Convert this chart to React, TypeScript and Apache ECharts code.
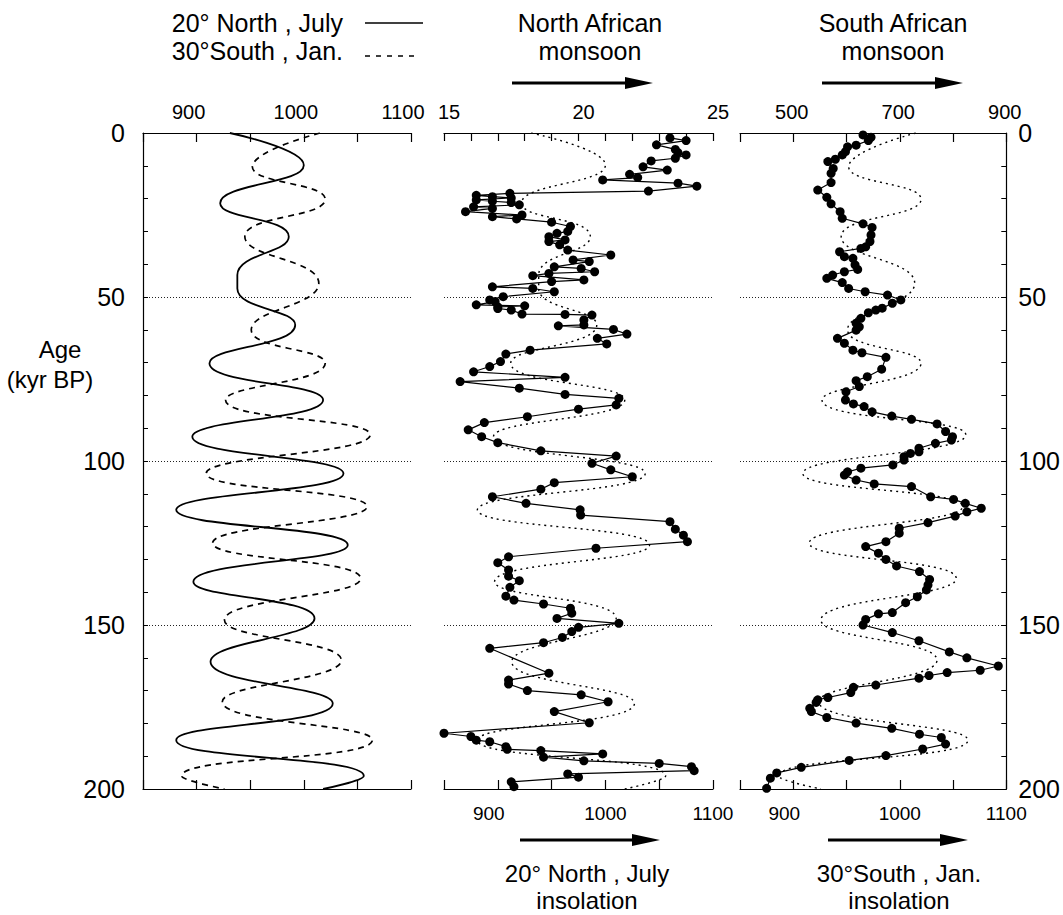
import React, { useEffect, useRef } from "react";
import * as echarts from "echarts";

const FONT = '"Liberation Sans", Arial, Helvetica, sans-serif';

// 20° North, July insolation (age kyr BP, value)
const n20JulyAge = [0, 9.8, 21.4, 31.6, 43.3, 47.4, 58.5, 70.2, 81.4, 92.6, 103.8, 114.9, 125.6, 136.8, 148, 161.2, 173.9, 185.1, 196, 200];
const n20JulyVal = [931, 1000, 922, 986, 938, 938, 992, 912, 1018, 896, 1037, 881, 1041, 897, 1010, 913, 1027, 881, 1056, 1018];

// 30° South, January insolation
const s30JanAge = [0, 10.3, 20.2, 31.6, 45.8, 60, 70.2, 81.4, 92, 103.8, 113.9, 125, 135.8, 148.5, 160.7, 173.4, 185.1, 196, 200];
const s30JanVal = [1015, 952, 1020, 945, 1014, 951, 1020, 927, 1062, 909, 1059, 915, 1053, 926, 1035, 924, 1064, 886, 926];

// North African monsoon index
const northAge = [1.5, 2.3, 3.6, 5.0, 6.0, 6.7, 7.7, 8.5, 10.3, 11.3, 12.6, 13.6, 14.3, 15.3, 16.2, 17.7, 18.4, 19.0, 19.4, 19.8, 20.4, 20.8, 21.2, 21.9, 22.5, 23.0, 24.0, 25.0, 25.5, 26.2, 27.2, 28.5, 30.0, 30.6, 31.6, 32.6, 33.1, 34.1, 35.7, 37.2, 38.7, 39.2, 40.8, 41.3, 42.3, 42.8, 43.5, 44.8, 45.3, 46.9, 47.4, 48.4, 49.9, 50.9, 51.4, 52.4, 52.7, 53.0, 53.5, 54.0, 55.2, 55.3, 55.5, 57.0, 58.5, 58.8, 59.9, 61.3, 62.6, 64.3, 66.2, 67.4, 69.7, 71.2, 72.8, 74.5, 75.8, 77.8, 79.7, 80.9, 82.9, 84.2, 86.5, 88.3, 90.5, 92.6, 94.4, 96.9, 98.5, 100.7, 102.7, 104.8, 106.6, 108.6, 110.9, 112.9, 114.9, 116.5, 118.5, 120.8, 122.6, 124.6, 126.6, 129.2, 131.0, 133.2, 135.1, 136.5, 138.5, 141.2, 142.4, 143.6, 144.9, 146.4, 148.0, 149.5, 150.7, 152.0, 153.8, 155.4, 157.1, 164.7, 166.8, 168.0, 170.0, 171.3, 173.4, 176.4, 179.8, 183.0, 184.0, 185.1, 185.6, 187.1, 187.9, 188.3, 189.3, 190.3, 191.4, 192.2, 193.2, 194.4, 195.4, 196.4, 197.8, 199.3];
const northVal = [23.4, 24.0, 22.9, 23.6, 23.7, 24.0, 23.6, 22.7, 22.4, 23.3, 21.9, 22.2, 20.9, 23.7, 24.4, 22.6, 17.45, 16.2, 16.8, 17.5, 16.2, 16.8, 17.5, 17.8, 16.1, 16.8, 15.8, 17.9, 16.8, 17.7, 19.0, 19.7, 19.6, 19.2, 18.9, 19.5, 18.9, 19.3, 19.6, 21.2, 19.8, 20.4, 19.1, 20.1, 20.6, 18.9, 18.3, 20.2, 19.0, 16.8, 18.3, 19.1, 17.2, 16.7, 16.9, 16.2, 18.0, 17.0, 17.0, 17.5, 17.9, 19.5, 20.5, 20.2, 20.2, 19.25, 21.3, 21.8, 20.7, 21.05, 18.2, 17.3, 17.1, 16.7, 16.1, 19.5, 15.6, 17.8, 19.5, 21.5, 21.4, 20.0, 18.1, 16.5, 15.9, 16.4, 17.0, 18.6, 21.4, 20.5, 21.2, 22.0, 19.1, 18.6, 16.8, 18.05, 20.06, 20.08, 23.4, 23.6, 23.9, 24.05, 20.65, 17.4, 17.0, 17.4, 17.4, 17.8, 17.45, 17.3, 17.6, 18.7, 19.7, 19.75, 19.2, 21.5, 20.0, 19.75, 19.4, 18.7, 16.7, 18.9, 17.4, 17.4, 18.1, 20.1, 21.1, 19.1, 20.4, 15.0, 16.0, 16.2, 16.7, 17.3, 17.35, 18.6, 20.9, 18.7, 20.2, 23.0, 24.2, 24.3, 19.6, 20.0, 17.5, 17.6];

// South African monsoon index
const southAge = [0.6, 1.3, 2.3, 3.7, 4.2, 5.7, 6.7, 8.0, 8.7, 10.8, 12.3, 15.1, 17.4, 19.6, 21.6, 24.0, 26.0, 27.7, 28.8, 31.1, 33.1, 34.7, 35.2, 36.2, 37.7, 38.2, 40.2, 41.6, 42.3, 43.3, 44.3, 45.6, 47.4, 48.4, 49.4, 50.9, 51.9, 53.4, 54.0, 54.8, 56.5, 58.0, 59.1, 60.1, 62.6, 64.1, 66.2, 67.0, 68.4, 72.0, 74.3, 75.5, 77.3, 78.9, 81.4, 82.6, 83.4, 85.0, 86.3, 87.3, 88.7, 91.0, 92.6, 93.6, 94.6, 96.1, 97.2, 97.7, 98.7, 99.7, 101.2, 102.2, 103.3, 104.3, 105.8, 107.0, 107.8, 110.9, 111.7, 112.9, 114.4, 115.5, 116.8, 118.8, 120.5, 122.0, 124.6, 126.1, 128.1, 130.0, 132.0, 133.7, 136.1, 137.8, 139.3, 141.4, 143.2, 146.2, 146.6, 148.3, 150.0, 152.3, 154.8, 158.2, 160.0, 162.5, 163.8, 164.5, 165.4, 166.2, 168.3, 169.0, 170.6, 172.1, 172.8, 173.6, 175.4, 176.4, 178.2, 179.9, 181.5, 183.3, 184.3, 186.3, 187.8, 189.8, 191.3, 193.4, 195.1, 196.7, 199.8];
const southVal = [631, 646, 641, 618, 602, 598, 592, 579, 565, 575, 571, 571, 546, 563, 571, 588, 592, 631, 648, 646, 644, 636, 627, 587, 596, 612, 616, 621, 596, 574, 563, 592, 604, 635, 677, 702, 686, 667, 655, 641, 627, 618, 624, 618, 583, 596, 612, 629, 674, 666, 639, 618, 624, 599, 598, 613, 633, 648, 685, 722, 770, 786, 799, 797, 767, 736, 736, 720, 708, 708, 687, 627, 602, 596, 618, 652, 722, 758, 801, 823, 853, 826, 804, 753, 699, 699, 674, 636, 660, 674, 694, 737, 756, 753, 750, 733, 711, 686, 660, 636, 631, 686, 736, 793, 826, 885, 851, 789, 755, 736, 655, 613, 608, 565, 546, 543, 531, 534, 563, 618, 685, 737, 778, 786, 743, 674, 605, 515, 469, 457, 450];

const insolLabels = [900, 1000, 1100];
const northLabels = [15, 20, 25];
const southLabels = [500, 700, 900];

const pairs = (vals: number[], ages: number[]) => vals.map((v, i) => [v, ages[i]]);

const BLACK = "#000";

function xAxisDef(
  grid: number, pos: "top" | "bottom", min: number, max: number, interval: number,
  labels: number[] | null, fontSize: number, tickLen: number, margin: number,
  padding: number[] = [0, 0, 0, 0], shiftFirst = false
) {
  return {
    type: "value",
    gridIndex: grid,
    position: pos,
    min,
    max,
    interval,
    axisLine: { show: true, onZero: false, lineStyle: { color: BLACK, width: 1.2 } },
    axisTick: { show: true, inside: true, length: tickLen, lineStyle: { color: BLACK, width: 1.2 } },
    axisLabel: {
      show: !!labels,
      margin,
      fontSize,
      fontFamily: FONT,
      color: BLACK,
      padding,
      formatter: (v: number) => {
        const r = Math.round(v);
        if (!labels || !labels.includes(r)) return "";
        if (shiftFirst && r === labels[0]) return `{s|${r}}`;
        return String(r);
      },
      rich: { s: { fontSize, fontFamily: FONT, color: BLACK, padding: [0, 18, 0, 0] } },
    },
    splitLine: { show: false },
  };
}

function yAxisDef(grid: number, pos: "left" | "right", showAxis: boolean, margin: number) {
  return {
    type: "value",
    gridIndex: grid,
    position: pos,
    inverse: true,
    min: 0,
    max: 200,
    interval: 50,
    axisLine: { show: showAxis, lineStyle: { color: BLACK, width: 1.2 } },
    axisTick: { show: showAxis, inside: true, length: 5, lineStyle: { color: BLACK, width: 1 } },
    minorTick: { show: showAxis, splitNumber: 5, length: 5, lineStyle: { color: BLACK, width: 1 } },
    axisLabel: { show: showAxis, margin, fontSize: 25, fontFamily: FONT, color: BLACK },
    splitLine: { show: true, lineStyle: { type: [1, 2], color: "#222", width: 1 } },
  };
}

function arrow(x1: number, x2: number, y: number) {
  return [
    { type: "line", shape: { x1, y1: y, x2: x2 - 20, y2: y }, style: { stroke: BLACK, lineWidth: 3 } },
    { type: "polygon", shape: { points: [[x2 - 28, y - 6], [x2, y], [x2 - 28, y + 6]] }, style: { fill: BLACK } },
  ];
}

function text(t: string, x: number, y: number, align: string, size = 25) {
  return {
    type: "text",
    x,
    y,
    style: { text: t, font: `${size}px ${FONT}`, fill: BLACK, textAlign: align, textVerticalAlign: "middle" },
  };
}

export default function App() {
  const ref = useRef<HTMLDivElement>(null);
  useEffect(() => {
    const chart = echarts.init(ref.current!, null, { renderer: "svg" });
    const option: any = {
      animation: false,
      backgroundColor: "#fff",
      grid: [
        { left: 143, top: 133, width: 268, height: 656 },
        { left: 444, top: 133, width: 269, height: 656 },
        { left: 740, top: 133, width: 268, height: 656 },
      ],
      xAxis: [
        xAxisDef(0, "top", 850, 1100, 50, insolLabels, 20, 9, 11, [0, 16, 0, 0]),
        xAxisDef(0, "bottom", 850, 1100, 50, null, 19, 9, 14),
        xAxisDef(1, "top", 15, 25, 1, northLabels, 20, 8, 11, [0, 0, 0, 10]),
        xAxisDef(1, "bottom", 850, 1100, 50, insolLabels, 19, 9, 15, [0, 0, 0, 0], true),
        xAxisDef(2, "top", 400, 900, 100, southLabels, 20, 9, 11, [0, 3, 0, 0]),
        xAxisDef(2, "bottom", 850, 1100, 50, insolLabels, 19, 9, 15, [0, 0, 0, 0], true),
      ],
      yAxis: [yAxisDef(0, "left", true, 18), yAxisDef(1, "left", false, 0), yAxisDef(2, "right", true, 12)],
      series: [
        {
          type: "line", xAxisIndex: 0, yAxisIndex: 0, data: pairs(n20JulyVal, n20JulyAge),
          smooth: 0.5, showSymbol: false, lineStyle: { color: BLACK, width: 1.8 },
        },
        {
          type: "line", xAxisIndex: 0, yAxisIndex: 0, data: pairs(s30JanVal, s30JanAge),
          smooth: 0.5, showSymbol: false, lineStyle: { color: BLACK, width: 1.7, type: [6, 5] },
        },
        {
          type: "line", xAxisIndex: 3, yAxisIndex: 1, data: pairs(n20JulyVal, n20JulyAge),
          smooth: 0.5, showSymbol: false, lineStyle: { color: BLACK, width: 1.4, type: [2, 4] },
        },
        {
          type: "line", xAxisIndex: 2, yAxisIndex: 1, data: pairs(northVal, northAge),
          symbol: "circle", symbolSize: 9, itemStyle: { color: BLACK }, lineStyle: { color: BLACK, width: 1.2 },
        },
        {
          type: "line", xAxisIndex: 5, yAxisIndex: 2, data: pairs(s30JanVal, s30JanAge),
          smooth: 0.5, showSymbol: false, lineStyle: { color: BLACK, width: 1.4, type: [2, 4] },
        },
        {
          type: "line", xAxisIndex: 4, yAxisIndex: 2, data: pairs(southVal, southAge),
          symbol: "circle", symbolSize: 9, itemStyle: { color: BLACK }, lineStyle: { color: BLACK, width: 1.2 },
        },
      ],
      graphic: [
        text("20° North , July", 343, 23, "right"),
        text("30°South , Jan.", 343, 51, "right"),
        { type: "line", shape: { x1: 365, y1: 23, x2: 423, y2: 23 }, style: { stroke: BLACK, lineWidth: 1.5 } },
        { type: "line", shape: { x1: 365, y1: 56, x2: 420, y2: 56 }, style: { stroke: BLACK, lineWidth: 1.5, lineDash: [5, 6] } },
        text("North African", 590, 23, "center"),
        text("monsoon", 590, 51, "center"),
        ...arrow(512, 653, 83),
        text("South African", 893, 23, "center"),
        text("monsoon", 893, 51, "center"),
        ...arrow(822, 963, 83),
        text("Age", 60, 349, "center", 24),
        text("(kyr BP)", 50, 379, "center", 24),
        ...arrow(520, 660, 840),
        text("20° North , July", 587, 873, "center", 24),
        text("insolation", 587, 900, "center", 24),
        ...arrow(828, 968, 840),
        text("30°South , Jan.", 899, 873, "center", 24),
        text("insolation", 899, 900, "center", 24),
      ],
    };
    chart.setOption(option);
    return () => chart.dispose();
  }, []);
  return (
    <div
      ref={ref}
      style={{ position: "fixed", left: 0, top: 0, width: 1063, height: 915, background: "#fff" }}
    />
  );
}
